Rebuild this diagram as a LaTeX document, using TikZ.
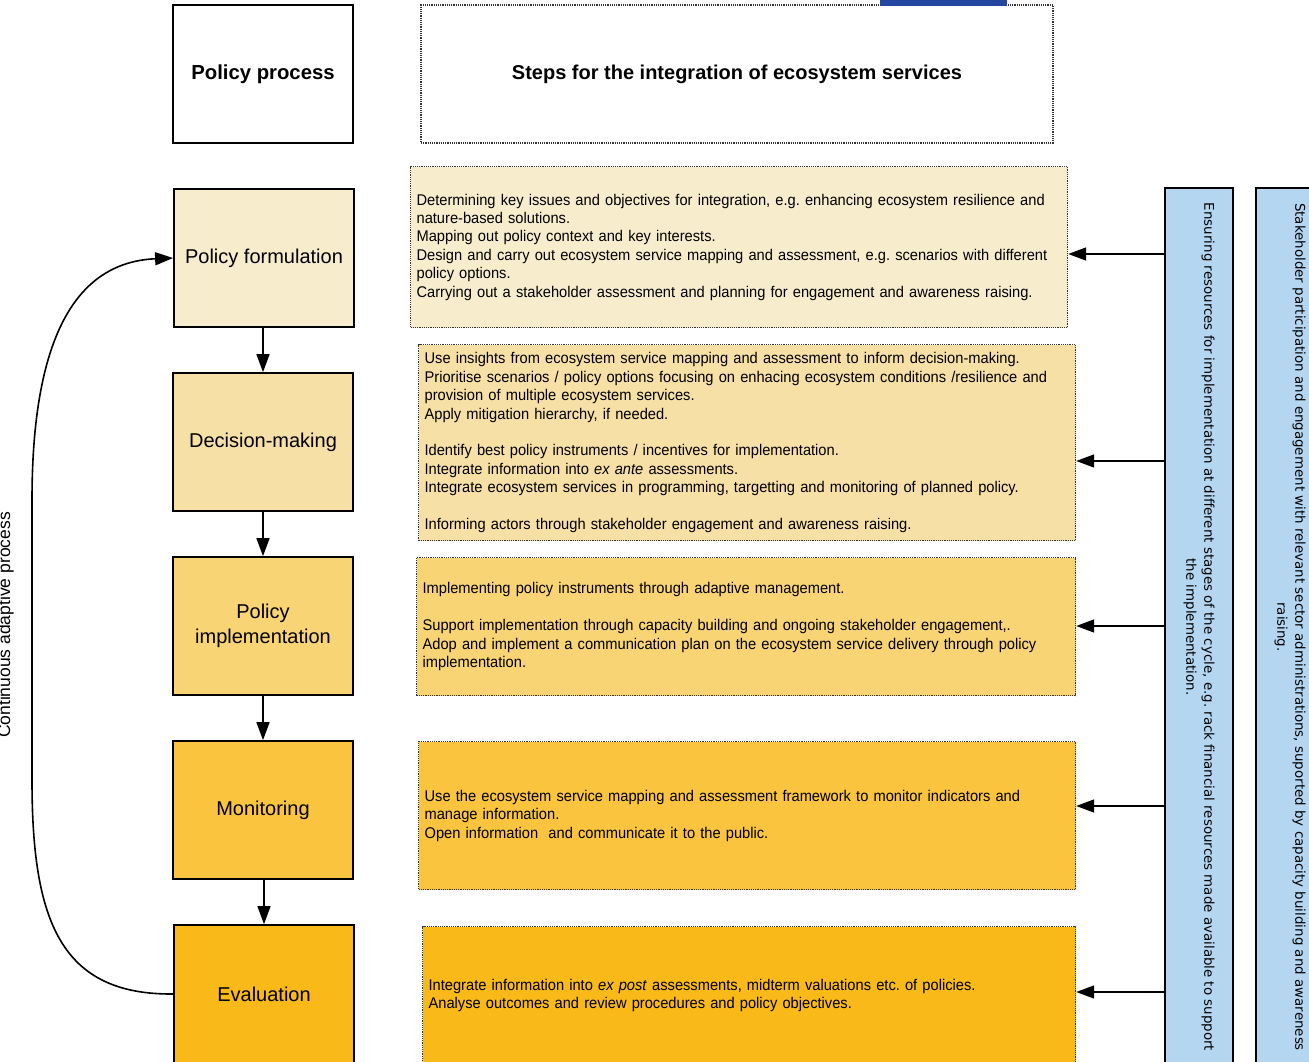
\documentclass[tikz,border=0pt]{standalone}
\usepackage{fontspec}
\setmainfont{Liberation Sans}
\newfontfamily\narrowfont[FakeStretch=0.946]{Liberation Sans}
\newfontfamily\sidefont{DejaVu Sans}
\usetikzlibrary{arrows.meta}
\definecolor{formfill}{HTML}{F7EDCC}
\definecolor{decfill}{HTML}{F7E0A6}
\definecolor{implfill}{HTML}{F8D474}
\definecolor{monfill}{HTML}{FAC43E}
\definecolor{evalfill}{HTML}{F8B919}
\definecolor{supportfill}{HTML}{B4D6F0}
\definecolor{barblue}{HTML}{2346A0}
\tikzset{
  stage/.style={draw, line width=1.8pt, minimum width=180pt, minimum height=138pt,
    align=center, font=\fontsize{20}{24.5}\selectfont},
  action/.style={draw=black!80, densely dotted, line width=1.2pt, anchor=north west,
    align=left, inner xsep=6pt, font=\narrowfont\fontsize{15.5}{18.4}\selectfont},
  support/.style={draw, line width=1.8pt, fill=supportfill, rotate=-90,
    minimum width=878pt, minimum height=68pt, align=center,
    font=\sidefont\fontsize{13.4}{18}\selectfont},
  flow/.style={-{Triangle[length=18pt,width=13pt]}, line width=1.6pt}
}
\frenchspacing
\begin{document}
\begin{tikzpicture}[x=1pt,y=-1pt]
  \useasboundingbox (0,0) rectangle (1309,1062);
  % headers
  \node[draw, line width=1.8pt, minimum width=180pt, minimum height=138pt,
    font=\bfseries\fontsize{20.3}{24}\selectfont] (head) at (263,74) {Policy process};
  \node[draw=black!80, densely dotted, line width=1.2pt, minimum width=632pt, minimum height=138pt,
    font=\bfseries\fontsize{20}{24}\selectfont] (steps) at (737,74) {Steps for the integration of ecosystem services};
  \fill[barblue] (880,0) rectangle (1007,6);
  % policy cycle
  \node[stage, fill=formfill] (s1) at (264,258) {Policy formulation};
  \node[stage, fill=decfill] (s2) at (263,442) {Decision-making};
  \node[stage, fill=implfill] (s3) at (263,626) {Policy\\implementation};
  \node[stage, fill=monfill] (s4) at (263,810) {Monitoring};
  \node[stage, fill=evalfill] (s5) at (264,994) {Evaluation};
  \foreach \i/\j in {s1/s2,s2/s3,s3/s4,s4/s5}
    \draw[flow] (\i.south -| \j) -- (\j.north);
  \draw[flow] (s5.west) .. controls (60,995) and (32,920) .. (32,780) -- (32,500)
    .. controls (32,330) and (80,262) .. (s1.west);
  \node[rotate=90, anchor=base, font=\fontsize{17.5}{20}\selectfont] (loop) at (10,625) {Continuous adaptive process};
  % steps
  \node[action, fill=formfill, text width=645pt, minimum height=161pt] (a1) at (410,166) {%
    Determining key issues and objectives for integration, e.g. enhancing ecosystem resilience and\\
    nature-based solutions.\\
    Mapping out policy context and key interests.\\
    Design and carry out ecosystem service mapping and assessment, e.g. scenarios with different\\
    policy options.\\
    Carrying out a stakeholder assessment and planning for engagement and awareness raising.};
  \node[action, fill=decfill, text width=645pt, minimum height=196pt] (a2) at (418,344) {%
    Use insights from ecosystem service mapping and assessment to inform decision-making.\\
    Prioritise scenarios / policy options focusing on enhacing ecosystem conditions /resilience and\\
    provision of multiple ecosystem services.\\
    Apply mitigation hierarchy, if needed.\\[18.4pt]
    Identify best policy instruments / incentives for implementation.\\
    Integrate information into \emph{ex ante} assessments.\\
    Integrate ecosystem services in programming, targetting and monitoring of planned policy.\\[18.4pt]
    Informing actors through stakeholder engagement and awareness raising.};
  \node[action, fill=implfill, text width=647pt, minimum height=138pt] (a3) at (416,557) {%
    Implementing policy instruments through adaptive management.\\[18.4pt]
    Support implementation through capacity building and ongoing stakeholder engagement,.\\
    Adop and implement a communication plan on the ecosystem service delivery through policy\\
    implementation.};
  \node[action, fill=monfill, text width=645pt, minimum height=148pt] (a4) at (418,741) {%
    Use the ecosystem service mapping and assessment framework to monitor indicators and\\
    manage information.\\
    Open information\ \ and communicate it to the public.};
  \node[action, fill=evalfill, text width=641pt, minimum height=138pt] (a5) at (422,926) {%
    Integrate information into \emph{ex post} assessments, midterm valuations etc. of policies.\\
    Analyse outcomes and review procedures and policy objectives.};
  % cross-cutting support
  \node[support] (res) at (1199,627) {Ensuring resources for implementation at different stages of the cycle, e.g. rack financial resources made available to support\\the implementation.};
  \node[support] (part) at (1290,627) {Stakeholder participation and engagement with relevant sector administrations, suported by capacity building and awareness\\raising.};
  \draw[flow] (res.south |- 0,254) -- (a1.east |- 0,254);
  \draw[flow] (res.south |- 0,461) -- (a2.east |- 0,461);
  \draw[flow] (res.south |- 0,626) -- (a3.east |- 0,626);
  \draw[flow] (res.south |- 0,806) -- (a4.east |- 0,806);
  \draw[flow] (res.south |- 0,992) -- (a5.east |- 0,992);
\end{tikzpicture}
\end{document}
